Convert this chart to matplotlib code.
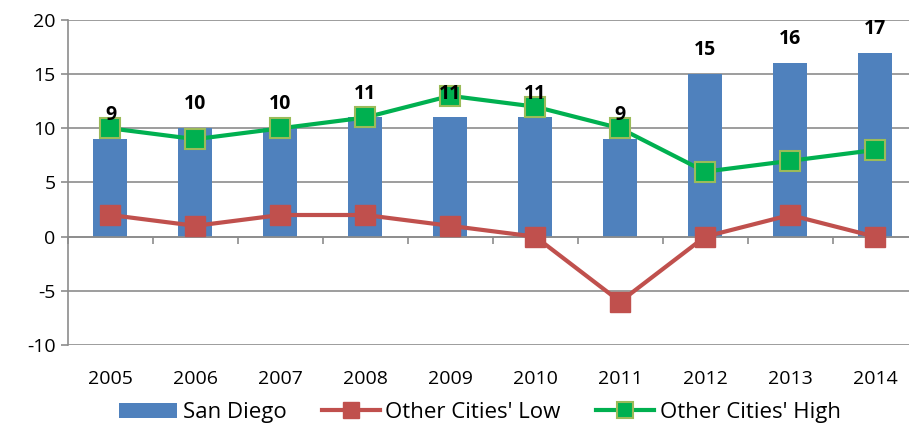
import numpy as np
from matplotlib import pyplot as plt

# Data
years = ['2005', '2006', '2007', '2008', '2009', '2010', '2011', '2012', '2013', '2014']
sanDiego = [9, 10, 10, 11, 11, 11, 9, 15, 16, 17]
citiesLow = [2, 1, 2, 2, 1, 0, -6, 0, 2, 0]
citiesHigh = [10, 9, 10, 11, 13, 12, 10, 6, 7, 8]

plt.rcParams['font.family'] = ['Open Sans', 'DejaVu Sans']
plt.rcParams['axes.unicode_minus'] = False

fig = plt.figure(figsize=(9.09, 4.32), dpi=100)
ax = fig.add_axes([0.0748, 0.2014, 0.9252, 0.7523])

x = np.arange(len(years))
gridColor = '#8c8c8c'

# Bars
bars = ax.bar(x, sanDiego, width=0.4, color='#4F81BD', label='San Diego', zorder=2)

# Lines
lowLine, = ax.plot(x, citiesLow, color='#C0504D', linewidth=3, marker='s', markersize=14,
                   markerfacecolor='#C0504D', markeredgecolor='#C0504D',
                   label="Other Cities' Low", zorder=3)
highLine, = ax.plot(x, citiesHigh, color='#00B050', linewidth=3, marker='s', markersize=14,
                    markerfacecolor='#00B050', markeredgecolor='#9BBB59', markeredgewidth=1.5,
                    label="Other Cities' High", zorder=4)

# Bar value labels
for xi, v in zip(x, sanDiego):
    ax.annotate(str(v), (xi, v), xytext=(0, 10), textcoords='offset points',
                ha='center', va='bottom', fontsize=14, fontweight='bold', zorder=5)

ax.set_xlim(-0.5, 9.4)
ax.set_ylim(-10, 20)
ax.set_yticks(range(-10, 21, 5))
ax.yaxis.grid(True, color=gridColor, linewidth=1.2, zorder=0)
ax.set_axisbelow(True)

# x axis line at zero with boundary ticks
ax.spines['top'].set_visible(False)
ax.spines['right'].set_visible(False)
ax.spines['left'].set_color(gridColor)
ax.spines['left'].set_linewidth(1.2)
ax.spines['bottom'].set_position(('data', 0))
ax.spines['bottom'].set_color(gridColor)
ax.spines['bottom'].set_linewidth(1.2)
ax.set_xticks(np.arange(-0.5, 9.5, 1.0))
ax.set_xticklabels([])
ax.tick_params(axis='x', direction='out', length=5, color=gridColor, width=1.2)
ax.tick_params(axis='y', direction='out', length=5, color=gridColor, width=1.2,
               labelsize=14, pad=4)

# Category labels at the bottom
for xi, label in zip(x, years):
    ax.text(xi, -0.105, label, transform=ax.get_xaxis_transform(),
            ha='center', va='center', fontsize=14)

fig.legend([bars, lowLine, highLine], ['San Diego', "Other Cities' Low", "Other Cities' High"],
           loc='center', bbox_to_anchor=(0.528, 0.045), ncol=3, frameon=False,
           fontsize=16, handlelength=2.6, columnspacing=1.6, handletextpad=0.25,
           markerscale=0.8)

fig.savefig('out.png', dpi=100)
